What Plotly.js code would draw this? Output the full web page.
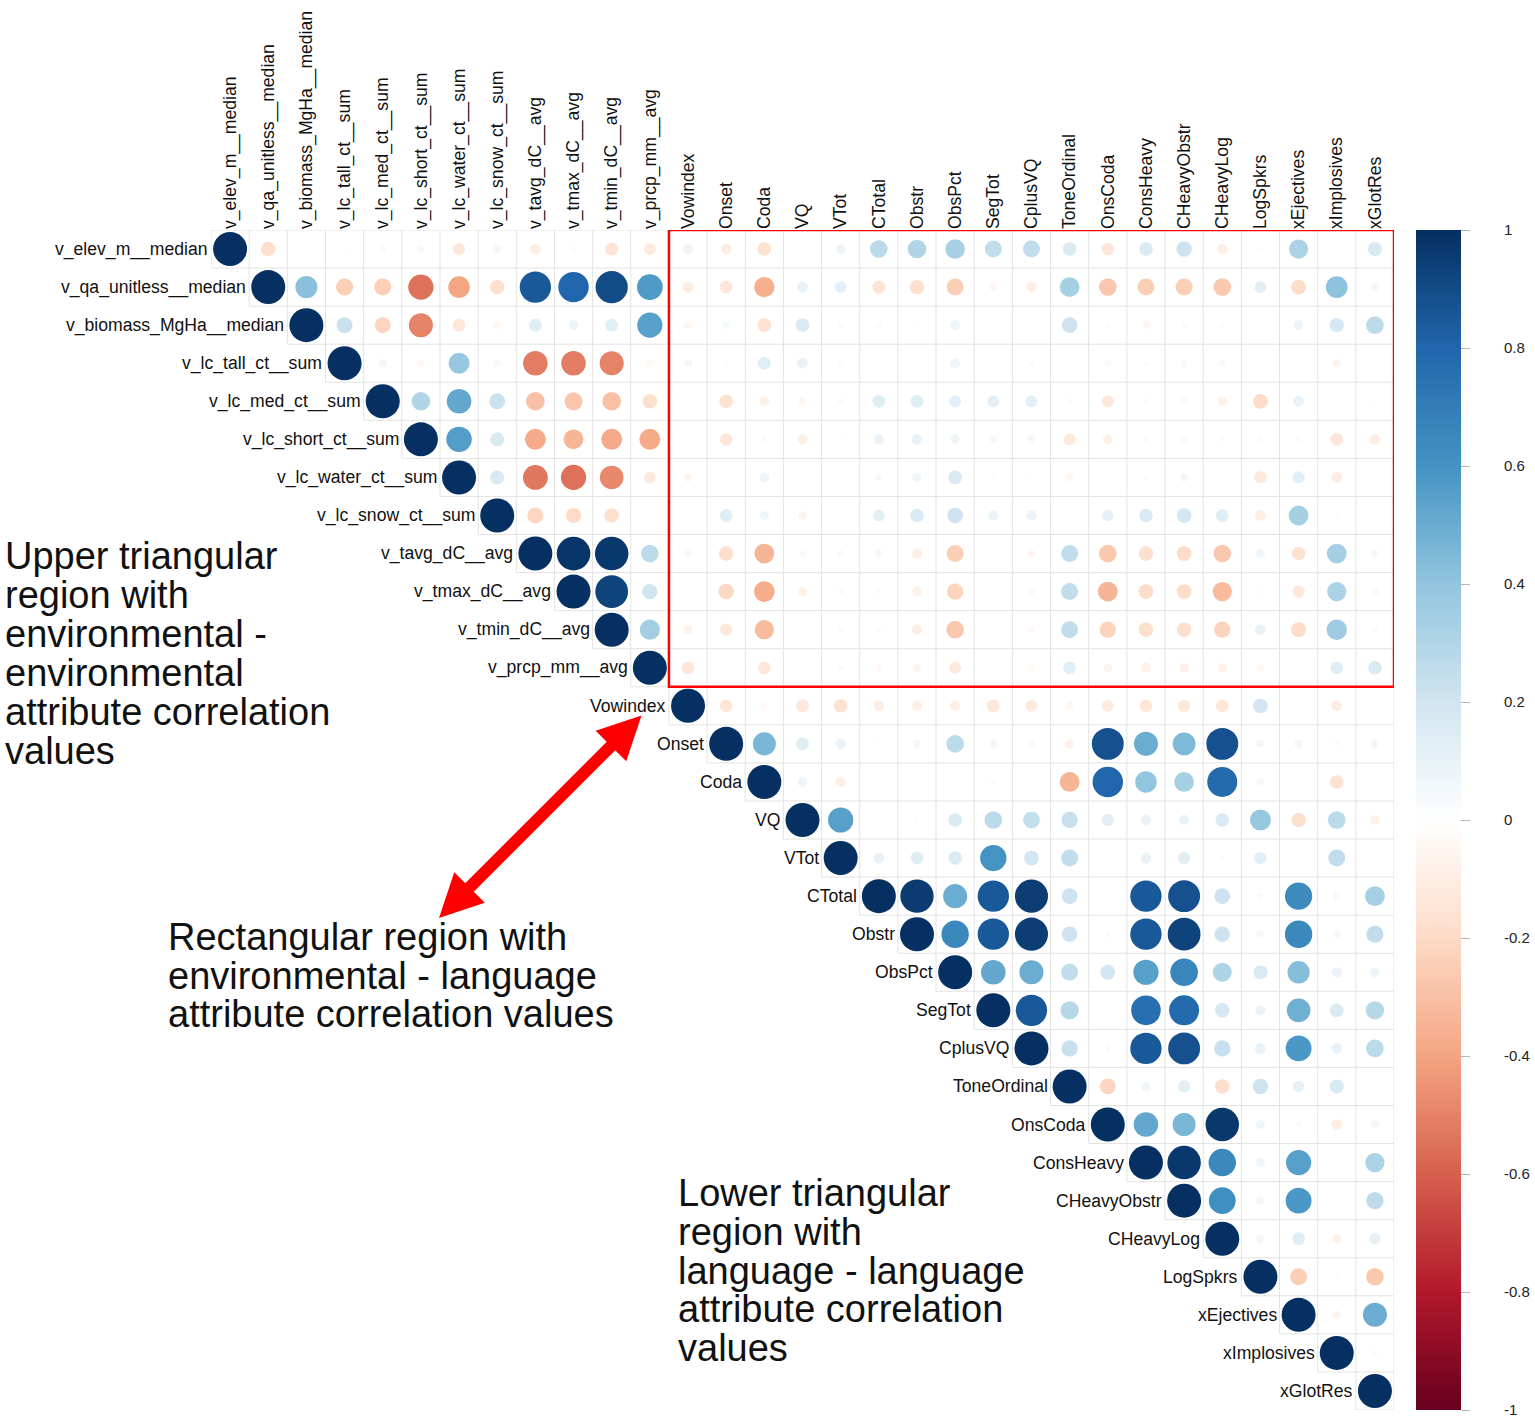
<!DOCTYPE html>
<html><head><meta charset="utf-8">
<script src="https://cdn.plot.ly/plotly-3.0.1.min.js"></script>
<style>html,body{margin:0;padding:0;background:#fff;}</style>
</head><body><div id="chart" style="width:1535px;height:1424px;"></div>
<script>
const envLabels = ["v_elev_m__median","v_qa_unitless__median","v_biomass_MgHa__median","v_lc_tall_ct__sum","v_lc_med_ct__sum","v_lc_short_ct__sum","v_lc_water_ct__sum","v_lc_snow_ct__sum","v_tavg_dC__avg","v_tmax_dC__avg","v_tmin_dC__avg","v_prcp_mm__avg"];
const langLabels = ["Vowindex","Onset","Coda","VQ","VTot","CTotal","Obstr","ObsPct","SegTot","CplusVQ","ToneOrdinal","OnsCoda","ConsHeavy","CHeavyObstr","CHeavyLog","LogSpkrs","xEjectives","xImplosives","xGlotRes"];

// environmental - environmental (upper triangle, row i lists columns i+1..)
const envEnv = [
  [-0.18, 0.01, 0.02, 0.04, 0.05, -0.13, 0.06, -0.10, -0.03, -0.15, -0.12],
  [0.42, -0.25, -0.25, -0.55, -0.40, -0.18, 0.85, 0.80, 0.90, 0.57],
  [0.22, -0.22, -0.50, -0.14, -0.05, 0.14, 0.08, 0.14, 0.55],
  [0.06, -0.05, 0.38, 0.05, -0.52, -0.52, -0.50, -0.04],
  [0.30, 0.52, 0.22, -0.30, -0.28, -0.30, -0.18],
  [0.56, 0.17, -0.38, -0.34, -0.38, -0.38],
  [0.17, -0.53, -0.55, -0.48, -0.12],
  [-0.22, -0.20, -0.18, 0.01],
  [0.98, 0.97, 0.27],
  [0.93, 0.20],
  [0.35],
  []
];

// environmental - language (rows: env, columns: language)
const envLang = [
  [0.08, -0.10, -0.16, 0.00, 0.08, 0.27, 0.30, 0.33, 0.25, 0.25, 0.16, -0.14, 0.16, 0.21, -0.09, 0.02, 0.32, 0.01, 0.17],
  [-0.10, -0.14, -0.36, 0.10, 0.12, -0.15, -0.18, -0.25, -0.05, -0.09, 0.34, -0.27, -0.25, -0.25, -0.27, 0.12, -0.19, 0.41, -0.06],
  [-0.05, 0.05, -0.16, 0.16, 0.03, -0.04, -0.02, 0.08, 0.01, 0.00, 0.21, -0.03, -0.05, -0.04, -0.03, 0.01, 0.08, 0.18, 0.27],
  [0.06, -0.03, 0.14, 0.10, -0.03, 0.01, -0.01, 0.08, 0.00, 0.03, 0.00, 0.03, 0.03, 0.04, 0.04, 0.01, 0.01, -0.06, 0.00],
  [0.01, -0.16, -0.08, -0.05, 0.03, 0.14, 0.14, 0.12, 0.12, 0.12, 0.03, -0.13, 0.03, 0.05, -0.08, -0.19, 0.10, 0.00, -0.02],
  [0.01, -0.14, 0.03, -0.09, -0.02, 0.09, 0.10, 0.07, 0.05, 0.06, -0.12, -0.08, 0.03, 0.05, -0.03, -0.03, 0.03, -0.14, -0.10],
  [-0.06, -0.01, 0.08, 0.00, 0.01, 0.04, 0.07, 0.16, 0.02, 0.02, -0.05, 0.01, 0.03, 0.06, 0.01, -0.13, 0.13, -0.10, 0.00],
  [0.01, 0.14, 0.07, -0.06, 0.01, 0.12, 0.16, 0.21, 0.09, 0.09, 0.01, 0.11, 0.16, 0.19, 0.14, -0.10, 0.34, -0.02, 0.01],
  [-0.05, -0.18, -0.34, -0.04, 0.04, -0.05, -0.09, -0.25, -0.01, -0.05, 0.25, -0.27, -0.18, -0.19, -0.27, 0.07, -0.16, 0.34, -0.05],
  [-0.01, -0.21, -0.37, -0.07, 0.03, -0.03, -0.08, -0.23, -0.01, -0.04, 0.25, -0.34, -0.19, -0.19, -0.32, 0.02, -0.13, 0.32, -0.05],
  [-0.07, -0.13, -0.32, 0.00, 0.03, -0.03, -0.09, -0.27, 0.01, -0.04, 0.25, -0.23, -0.18, -0.18, -0.23, 0.10, -0.19, 0.36, -0.04],
  [-0.14, 0.00, -0.14, -0.01, 0.03, -0.04, -0.06, -0.12, -0.01, -0.04, 0.14, -0.06, -0.08, -0.08, -0.07, -0.05, 0.01, 0.14, 0.16]
];

// language - language (upper triangle, row i lists columns i+1..)
const langLang = [
  [-0.14, -0.04, -0.14, -0.16, -0.10, -0.09, -0.09, -0.14, -0.12, -0.05, -0.12, -0.14, -0.13, -0.14, 0.19, 0.01, -0.10, 0.01],
  [0.46, 0.14, 0.09, 0.02, 0.06, 0.27, 0.06, 0.05, -0.08, 0.88, 0.50, 0.45, 0.88, 0.06, 0.06, -0.03, 0.06],
  [0.08, -0.09, 0.00, 0.01, 0.01, -0.03, 0.01, -0.34, 0.80, 0.40, 0.34, 0.78, 0.05, 0.00, -0.16, 0.01],
  [0.55, 0.01, 0.02, 0.16, 0.27, 0.24, 0.23, 0.13, 0.09, 0.09, 0.16, 0.38, -0.18, 0.27, -0.08],
  [0.10, 0.14, 0.16, 0.60, 0.19, 0.25, 0.01, 0.10, 0.13, 0.03, 0.13, 0.00, 0.25, 0.01],
  [0.96, 0.50, 0.85, 0.95, 0.21, 0.01, 0.85, 0.88, 0.21, 0.04, 0.64, 0.05, 0.34],
  [0.65, 0.85, 0.95, 0.21, 0.03, 0.85, 0.93, 0.21, 0.05, 0.65, 0.05, 0.25],
  [0.52, 0.50, 0.25, 0.19, 0.55, 0.66, 0.31, 0.17, 0.43, 0.09, 0.08],
  [0.85, 0.29, 0.01, 0.76, 0.78, 0.18, 0.09, 0.49, 0.16, 0.29],
  [0.23, 0.03, 0.85, 0.88, 0.23, 0.10, 0.58, 0.10, 0.27],
  [-0.22, 0.07, 0.13, -0.18, 0.21, 0.11, 0.17, 0.01],
  [0.52, 0.46, 0.97, 0.07, 0.03, -0.10, 0.06],
  [0.97, 0.65, 0.07, 0.55, 0.00, 0.32],
  [0.62, 0.06, 0.58, 0.01, 0.26],
  [0.06, 0.14, -0.08, 0.11],
  [-0.25, 0.02, -0.27],
  [-0.06, 0.50],
  [0.03],
  []
];

const cbTickVals = [1, 0.8, 0.6, 0.4, 0.2, 0, -0.2, -0.4, -0.6, -0.8, -1];
const cbTickText = ["1", "0.8", "0.6", "0.4", "0.2", "0", "-0.2", "-0.4", "-0.6", "-0.8", "-1"];

const noteUpper = ["Upper triangular", "region with", "environmental -", "environmental", "attribute correlation", "values"];
const noteRect = ["Rectangular region with", "environmental - language", "attribute correlation values"];
const noteLower = ["Lower triangular", "region with", "language - language", "attribute correlation", "values"];

// ---------- build ----------
const FONT = "Liberation Sans, Arial, Helvetica, sans-serif";
const labels = envLabels.concat(langLabels);
const n = labels.length;
const nE = envLabels.length;

function corr(i, j) {
  if (i === j) return 1;
  if (j < nE) return envEnv[i][j - i - 1];
  if (i < nE) return envLang[i][j - nE];
  return langLang[i - nE][j - i - 1];
}

const xs = [], ys = [], vals = [];
for (let i = 0; i < n; i++) {
  for (let j = i; j < n; j++) {
    xs.push(j); ys.push(i); vals.push(corr(i, j));
  }
}

const colorscale = [
  [0.0, "#67001F"], [0.1, "#B2182B"], [0.2, "#D6604D"], [0.3, "#F4A582"], [0.4, "#FDDBC7"],
  [0.5, "#FFFFFF"], [0.6, "#D1E5F0"], [0.7, "#92C5DE"], [0.8, "#4393C3"], [0.9, "#2166AC"], [1.0, "#053061"]
];

// page geometry (pixels)
const PAGE_W = 1535, PAGE_H = 1424;
const L = 211, T = 230, PW = PAGE_W - L, H = 1180;
const GRID_RIGHT = 1394;
const pxX = p => (p - L) / PW;
const pxY = p => 1 - (p - T) / H;
const DIAM = 34; // diameter of a |r| = 1 circle

const trace = {
  type: "scatter", mode: "markers", x: xs, y: ys,
  hoverinfo: "skip", cliponaxis: false,
  marker: {
    size: vals.map(Math.abs), sizemode: "area", sizeref: 2 / (DIAM * DIAM), sizemin: 0,
    opacity: 1,
    color: vals, cmin: -1, cmax: 1, colorscale: colorscale,
    line: { width: 0 },
    showscale: true,
    colorbar: {
      thickness: 45, thicknessmode: "pixels", len: 1, lenmode: "fraction",
      x: pxX(1416), xanchor: "left", y: 0.5, yanchor: "middle", xpad: 0, ypad: 0,
      outlinewidth: 0, tickmode: "array", tickvals: cbTickVals, ticktext: cbTickText,
      ticks: "outside", ticklen: 9, tickcolor: "#b8b8b8", tickwidth: 1,
      showticklabels: false
    }
  }
};

// invisible helper trace so the colour-bar label axis is drawn
const labelAxisTrace = { type: "scatter", mode: "markers", x: [], y: [], xaxis: "x", yaxis: "y2", hoverinfo: "skip", showlegend: false };

const shapes = [];
const grid = { color: "#e3e3e3", width: 1 };
for (let k = 0; k <= n; k++) {
  const y = k - 0.5;
  shapes.push({ type: "line", xref: "x", yref: "y", x0: Math.max(k - 1, 0) - 0.5, x1: n - 0.5, y0: y, y1: y, line: grid, layer: "below" });
  const x = k - 0.5;
  shapes.push({ type: "line", xref: "x", yref: "y", x0: x, x1: x, y0: -0.5, y1: Math.min(k, n - 1) + 0.5, line: grid, layer: "below" });
}
shapes.push({ type: "rect", xref: "x", yref: "y", x0: nE - 0.5, x1: n - 0.5, y0: -0.5, y1: nE - 0.5, line: { color: "#ff0000", width: 2.5 }, layer: "above" });

const LABEL_SIZE = 17.6;
const annotations = [];
labels.forEach((lab, i) => {
  annotations.push({ x: i - 0.5, y: i, xref: "x", yref: "y", xanchor: "right", yanchor: "middle", xshift: -1,
    text: lab, showarrow: false, font: { size: LABEL_SIZE, color: "#111", family: FONT } });
});
function addNote(lines, left, firstY, step) {
  lines.forEach((t, k) => {
    annotations.push({ x: pxX(left), y: pxY(firstY + k * step), xref: "paper", yref: "paper", xanchor: "left", yanchor: "middle",
      text: t, showarrow: false, font: { size: 38, color: "#111", family: FONT } });
  });
}
addNote(noteUpper, 3, 556, 38.9);
addNote(noteRect, 166, 937, 38.7);
addNote(noteLower, 676, 1193, 38.8);

annotations.push({
  x: pxX(439), y: pxY(918), xref: "paper", yref: "paper", text: "", showarrow: true,
  ax: 204, ay: -204, axref: "pixel", ayref: "pixel",
  arrowside: "end+start", arrowhead: 2, startarrowhead: 2, arrowsize: 0.72, startarrowsize: 0.72,
  arrowwidth: 12, arrowcolor: "#ff0000", standoff: 0, startstandoff: 0
});

const layout = {
  width: PAGE_W, height: PAGE_H, autosize: false,
  margin: { l: L, r: 0, t: T, b: PAGE_H - T - H, pad: 0 },
  paper_bgcolor: "#ffffff", plot_bgcolor: "rgba(0,0,0,0)",
  showlegend: false,
  font: { family: FONT, color: "#111" },
  xaxis: {
    domain: [0, pxX(GRID_RIGHT)],
    side: "top", range: [-0.5, n - 0.5], tickmode: "array",
    tickvals: labels.map((_, i) => i), ticktext: labels, tickangle: -90,
    showgrid: false, zeroline: false, showline: false, ticks: "",
    tickfont: { size: LABEL_SIZE, color: "#111", family: FONT }, fixedrange: true, automargin: false
  },
  yaxis: { range: [n - 0.5, -0.5], visible: false, showgrid: false, zeroline: false, fixedrange: true },
  yaxis2: {
    overlaying: "y", anchor: "free", position: pxX(1503), side: "right",
    range: [-1, 1], tickmode: "array", tickvals: cbTickVals, ticktext: cbTickText,
    showgrid: false, zeroline: false, showline: false, ticks: "",
    tickfont: { size: 15, color: "#222", family: FONT }, fixedrange: true, automargin: false
  },
  shapes: shapes,
  annotations: annotations
};

Plotly.newPlot("chart", [trace, labelAxisTrace], layout, { displayModeBar: false, staticPlot: true });
</script>
</body></html>
